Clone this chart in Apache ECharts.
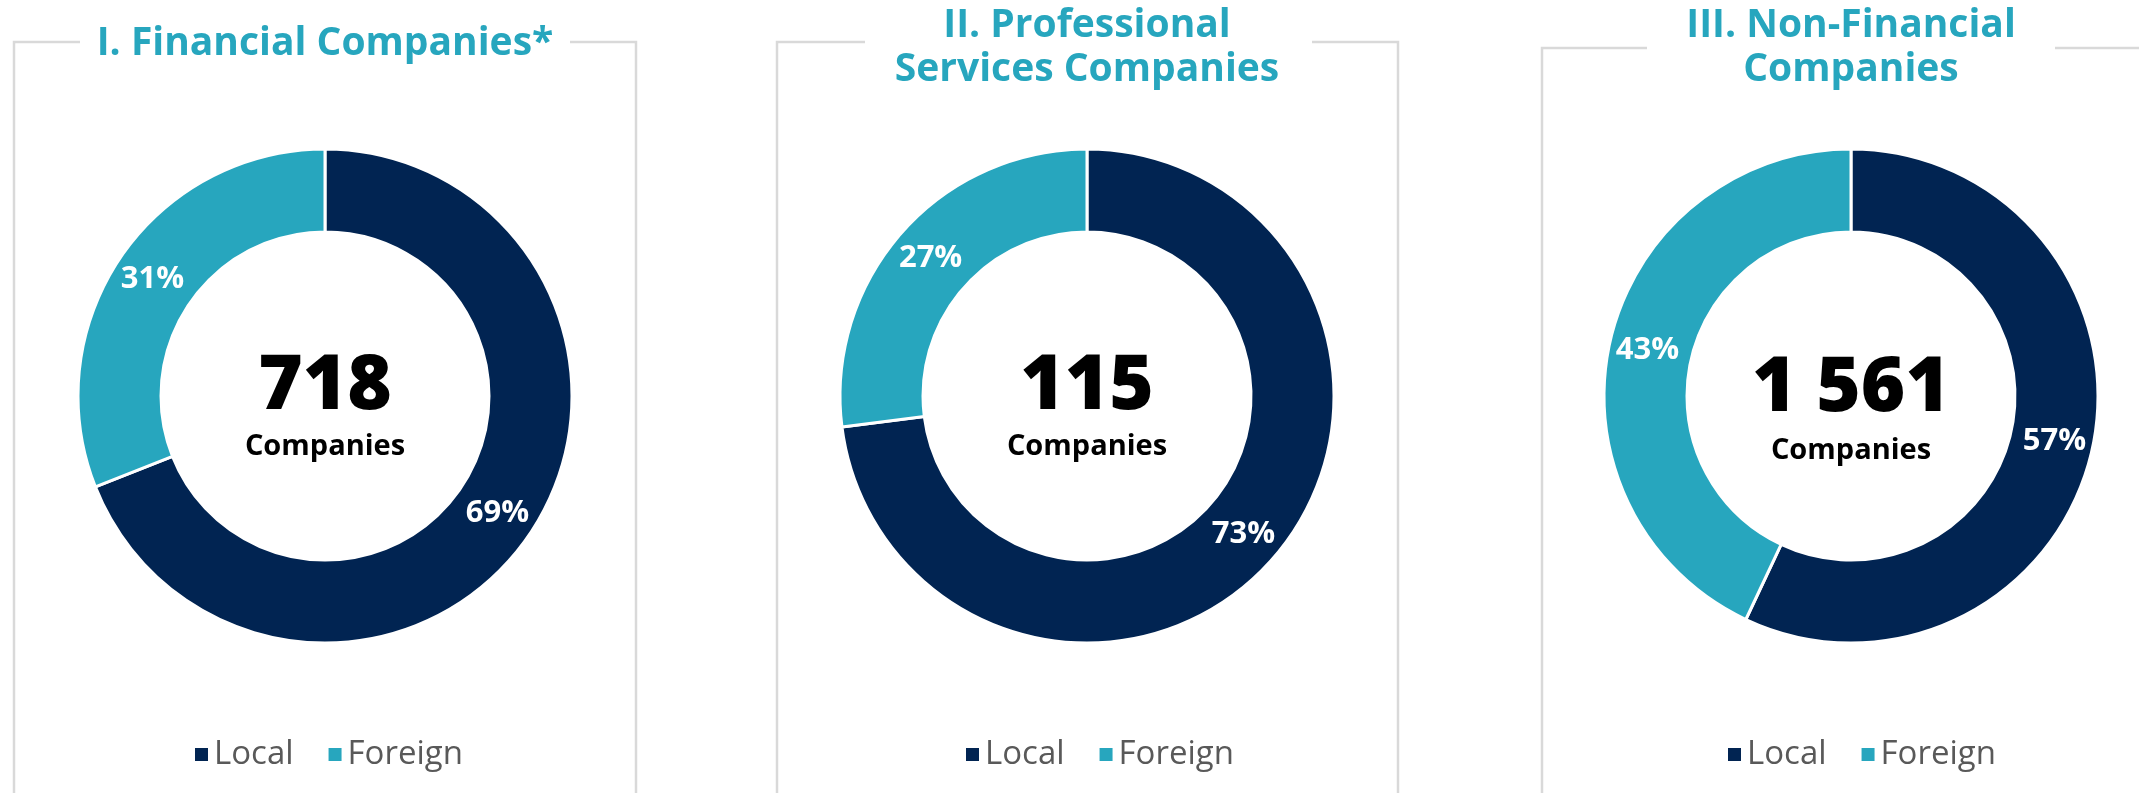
<!DOCTYPE html>
<html>
<head>
<meta charset="utf-8">
<script src="https://cdn.jsdelivr.net/npm/echarts@6/dist/echarts.min.js"></script>
<style>html,body{margin:0;padding:0;background:#fff;}#c{width:2139px;height:793px;}</style>
</head>
<body>
<div id="c"></div>
<script>
const categories = ['Local', 'Foreign'];
const panelTitles = ['I. Financial Companies*', 'II. Professional\nServices Companies', 'III. Non-Financial\nCompanies'];
const totals = ['718', '115', '1 561'];
const centerLabel = 'Companies';
const localShare = [69, 73, 57];
const foreignShare = [31, 27, 43];

const NAVY = '#012452';
const TEAL = '#27A6BE';
const FONT = '"Open Sans", sans-serif';

const centers = [[325, 396], [1087, 396], [1851, 396]];
const titleY = [[44], [26, 70], [26, 70]];
const legendLeft = [188, 959, 1721];
const frames = [
  {top: 42, left: 14, right: 636, gapL: 80, gapR: 570},
  {top: 42, left: 777, right: 1398, gapL: 865, gapR: 1312},
  {top: 48, left: 1542, right: null, gapL: 1647, gapR: 2055}
];

const chart = echarts.init(document.getElementById('c'));
const graphics = [];
frames.forEach(f => {
  graphics.push({type: 'polyline', shape: {points: [[f.gapL, f.top], [f.left, f.top], [f.left, 793]]}, style: {stroke: '#D9D9D9', lineWidth: 2.5, fill: null}});
  if (f.right !== null) {
    graphics.push({type: 'polyline', shape: {points: [[f.gapR, f.top], [f.right, f.top], [f.right, 793]]}, style: {stroke: '#D9D9D9', lineWidth: 2.5, fill: null}});
  } else {
    graphics.push({type: 'polyline', shape: {points: [[f.gapR, f.top], [2139, f.top]]}, style: {stroke: '#D9D9D9', lineWidth: 2.5, fill: null}});
  }
});
panelTitles.forEach((t, i) => {
  t.split('\n').forEach((line, j) => {
    graphics.push({type: 'text', x: centers[i][0], y: titleY[i][j], style: {text: line, fill: TEAL, font: 'bold 39px ' + FONT, textAlign: 'center', textVerticalAlign: 'middle'}});
  });
  graphics.push({type: 'text', x: centers[i][0], y: i === 2 ? 389 : 387, style: {text: totals[i], fill: '#000', font: '800 76px ' + FONT, textAlign: 'center', textVerticalAlign: 'middle'}});
  graphics.push({type: 'text', x: centers[i][0], y: i === 2 ? 451 : 447, style: {text: centerLabel, fill: '#000', font: 'bold 29px ' + FONT, textAlign: 'center', textVerticalAlign: 'middle'}});
});

const series = centers.map((c, i) => ({
  type: 'pie',
  center: c,
  radius: [164, 247],
  startAngle: 90,
  clockwise: true,
  silent: true,
  itemStyle: {borderColor: '#fff', borderWidth: 3},
  label: {show: true, position: 'inside', formatter: '{c}%', color: '#fff', fontSize: 31, fontWeight: 'bold', fontFamily: FONT},
  labelLine: {show: false},
  data: [
    {name: categories[0], value: localShare[i], itemStyle: {color: NAVY}},
    {name: categories[1], value: foreignShare[i], itemStyle: {color: TEAL}}
  ]
}));

const legends = legendLeft.map(l => ({
  data: categories,
  left: l,
  top: 733,
  orient: 'horizontal',
  icon: 'rect',
  itemWidth: 15,
  itemHeight: 15,
  itemGap: 33,
  selectedMode: false,
  textStyle: {fontSize: 33, color: '#595959', fontFamily: FONT}
}));

chart.setOption({
  animation: false,
  color: [NAVY, TEAL],
  legend: legends,
  series: series,
  graphic: graphics
});
</script>
</body>
</html>
